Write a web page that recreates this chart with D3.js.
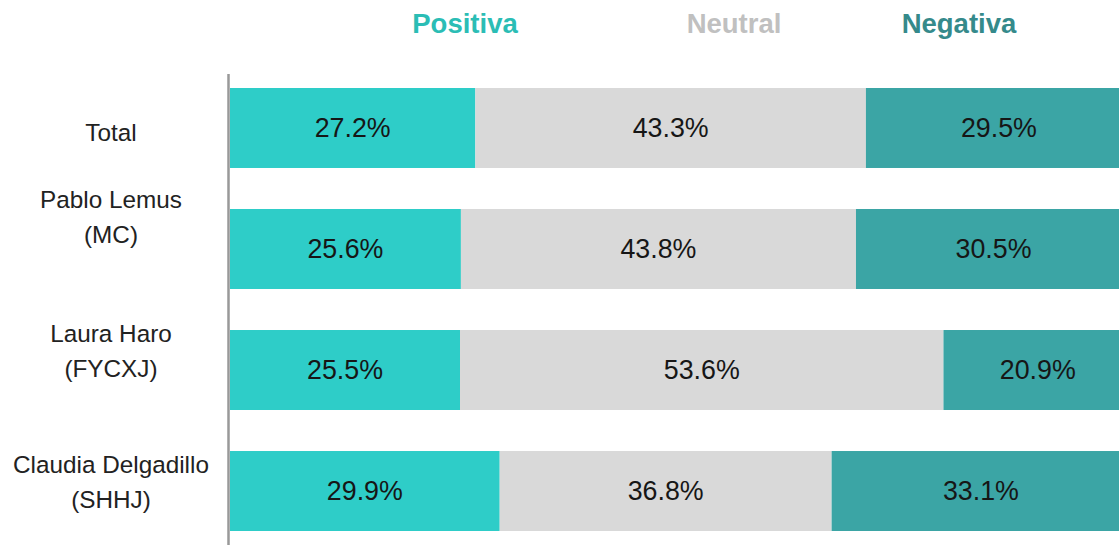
<!DOCTYPE html>
<html>
<head>
<meta charset="utf-8">
<script src="https://cdn.jsdelivr.net/npm/d3@7"></script>
<style>
  body { margin: 0; background: #fff; }
  svg text { font-family: Arial, 'Liberation Sans', Helvetica, sans-serif; }
</style>
</head>
<body>
<div id="chart"></div>
<script>
const width = 1119;
const height = 545;

// data
const categories = ['Total', 'Pablo Lemus (MC)', 'Laura Haro (FYCXJ)', 'Claudia Delgadillo (SHHJ)'];
const labelLines = [['Total'], ['Pablo Lemus', '(MC)'], ['Laura Haro', '(FYCXJ)'], ['Claudia Delgadillo', '(SHHJ)']];
const seriesNames = ['Positiva', 'Neutral', 'Negativa'];
const positiva = [27.2, 25.6, 25.5, 29.9];
const neutral = [43.3, 43.8, 53.6, 36.8];
const negativa = [29.5, 30.5, 20.9, 33.1];

const barColors = { Positiva: '#2ecdc8', Neutral: '#d9d9d9', Negativa: '#3ba5a5' };
const legendColors = { Positiva: '#2bbdb5', Neutral: '#c0c0c0', Negativa: '#358a8b' };

// build table for stack
const table = categories.map((c, i) => ({
  cat: c,
  Positiva: positiva[i],
  Neutral: neutral[i],
  Negativa: negativa[i],
}));

const stack = d3.stack().keys(seriesNames)(table);

const xScale = d3.scaleLinear().domain([0, 100]).range([230, 1132]);
const yScale = d3.scaleBand()
  .domain(categories)
  .range([88, 531])
  .paddingInner(0.339)
  .paddingOuter(0);

const svg = d3.select('#chart')
  .append('svg')
  .attr('width', width)
  .attr('height', height)
  .style('display', 'block');

// bars
const layers = svg.append('g')
  .selectAll('g')
  .data(stack)
  .join('g')
  .attr('fill', (d) => barColors[d.key]);

layers.selectAll('rect')
  .data((d) => d)
  .join('rect')
  .attr('x', (d) => xScale(d[0]))
  .attr('y', (d) => yScale(d.data.cat))
  .attr('width', (d) => xScale(d[1]) - xScale(d[0]))
  .attr('height', yScale.bandwidth());

// value labels
layers.selectAll('text')
  .data((d) => d.map((v) => ({ v, key: d.key })))
  .join('text')
  .attr('x', (d) => (xScale(d.v[0]) + xScale(d.v[1])) / 2)
  .attr('y', (d) => yScale(d.v.data.cat) + yScale.bandwidth() / 2 + 9)
  .attr('text-anchor', 'middle')
  .attr('font-size', 26.8)
  .attr('fill', '#161616')
  .text((d) => d.v.data[d.key].toFixed(1) + '%');

// left axis line
svg.append('line')
  .attr('x1', 228.5).attr('x2', 228.5)
  .attr('y1', 74).attr('y2', height)
  .attr('stroke', '#999')
  .attr('stroke-width', 2.5);

// category labels (offset from band centre like the original)
const labelShift = [13.5, -40.5, -28, -18];
const catLabels = svg.append('g')
  .selectAll('text')
  .data(categories)
  .join('text')
  .attr('text-anchor', 'middle')
  .attr('font-size', 24.3)
  .attr('fill', '#222')
  .attr('y', (d, i) => yScale(d) + yScale.bandwidth() / 2 + labelShift[i]);

catLabels.selectAll('tspan')
  .data((d, i) => labelLines[i])
  .join('tspan')
  .attr('x', 111)
  .attr('dy', (d, i) => (i === 0 ? 0 : 35))
  .text((d) => d);

// legend at top
const legendX = [465, 734, 959];
svg.append('g')
  .selectAll('text')
  .data(seriesNames)
  .join('text')
  .attr('x', (d, i) => legendX[i])
  .attr('y', 33)
  .attr('text-anchor', 'middle')
  .attr('font-size', 27.5)
  .attr('font-weight', 'bold')
  .attr('fill', (d) => legendColors[d])
  .text((d) => d);
</script>
</body>
</html>
